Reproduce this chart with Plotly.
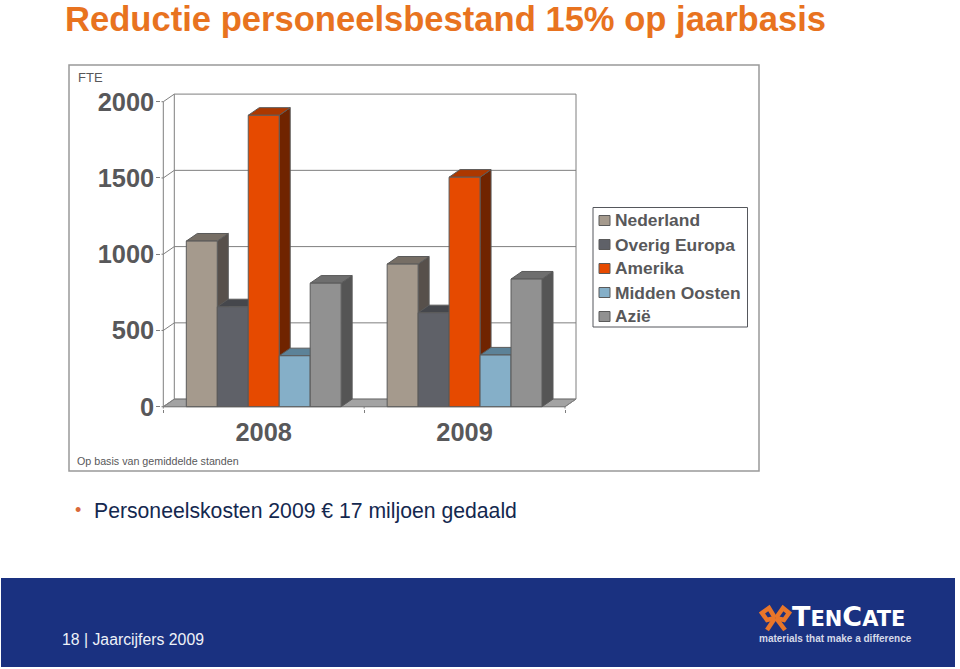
"""TenCate slide: FTE per region, pseudo-3D grouped bars plus slide furniture."""
import plotly.graph_objects as go

W, H = 960, 669

YEARS = ["2008", "2009"]
REGIONS = ["Nederland", "Overig Europa", "Amerika", "Midden Oosten", "Azië"]
NEDERLAND = [1086, 935]
OVERIG_EUROPA = [655, 616]
AMERIKA = [1911, 1505]
MIDDEN_OOSTEN = [334, 339]
AZIE = [810, 837]
Y_TICKS = [0, 500, 1000, 1500, 2000]

SERIES = [NEDERLAND, OVERIG_EUROPA, AMERIKA, MIDDEN_OOSTEN, AZIE]
FRONT = ["#a59a8d", "#5f6168", "#e64a00", "#85afc8", "#919191"]
SIDE = ["#57504b", "#45474c", "#702400", "#5c8298", "#555555"]
TOP = ["#766e65", "#45474c", "#ac3800", "#5c8298", "#6e6e6e"]
EDGE = "#5a5a5a"
GRID = "#7f7f7f"
TEXT = "#58585a"
ORANGE = "#e8731f"
NAVY = "#1a3180"

# front plane of the 3D box in pixels, then the box depth and a small pad so
# nothing gets clipped at the subplot edge
X0, X1, Y0, Y1 = 163.3, 565.0, 406.7, 101.7
DEPTH_X, DEPTH_Y, PAD = 11, 7.6, 2
X_UNIT = (X1 - X0) / 2          # pixels per category
Y_UNIT = (Y0 - Y1) / 2000       # pixels per FTE
BARGAP = 0.229
BAR_W = (1 - BARGAP) / len(SERIES)
DX = DEPTH_X / X_UNIT
DY = DEPTH_Y / Y_UNIT
PAD_X = PAD / X_UNIT
PAD_Y = PAD / Y_UNIT
X_RANGE = [-0.5 - PAD_X, 1.5 + DX + PAD_X]
Y_RANGE = [-PAD_Y, 2000 + DY + PAD_Y]


def px(x):
    return x / W


def py(y):
    return 1 - y / H


def face(xs, ys, fill, line=EDGE):
    return go.Scatter(x=xs + xs[:1], y=ys + ys[:1], mode="lines", fill="toself",
                      fillcolor=fill, line=dict(color=line, width=1),
                      hoverinfo="skip", showlegend=False, xaxis="x", yaxis="y")


def label(x, y, text, size, color=TEXT, bold=False, family="Liberation Sans"):
    font = dict(family=family, size=size, color=color, weight="bold" if bold else "normal")
    fig.add_annotation(xref="paper", yref="paper", x=px(x), y=py(y), text=text,
                       showarrow=False, font=font, xanchor="left", yanchor="middle",
                       borderpad=0, borderwidth=0)


def pixel_path(points):
    return "M" + " L".join(f"{px(x):.5f},{py(y):.5f}" for x, y in points)


fig = go.Figure()

# floor, back wall and the front axis lines, the stubs join the axis ticks
left, right = -0.5, 1.5
fig.add_trace(face([left, left + DX, right + DX, right], [0, DY, DY, 0], "#a3a3a3", GRID))
wall_x, wall_y = [], []
for t in Y_TICKS:
    wall_x += [left - PAD_X, left, left + DX, right + DX, None]
    wall_y += [t, t, t + DY, t + DY, None]
for b in [left, 0.5, right]:
    wall_x += [b, b, None]
    wall_y += [0, -PAD_Y, None]
wall_x += [left + DX, left + DX, None, right + DX, right + DX, None, right, right + DX, None]
wall_y += [DY, 2000 + DY, None, DY, 2000 + DY, None, 0, DY, None]
wall_x += [left, left, None, left, right]
wall_y += [0, 2000, None, 0, 0]
fig.add_trace(go.Scatter(x=wall_x, y=wall_y, mode="lines", line=dict(color=GRID, width=1),
                         hoverinfo="skip", showlegend=False))

# side and top faces sit on the lower subplot, so the front bars cover them
for j, vals in enumerate(SERIES):
    for i, v in enumerate(vals):
        x_l = i + (j - len(SERIES) / 2) * BAR_W
        x_r = x_l + BAR_W
        fig.add_trace(face([x_r, x_r + DX, x_r + DX, x_r], [0, DY, v + DY, v], SIDE[j]))
        fig.add_trace(face([x_l, x_l + DX, x_r + DX, x_r], [v, v + DY, v + DY, v], TOP[j]))

for name, vals, color in zip(REGIONS, SERIES, FRONT):
    fig.add_trace(go.Bar(x=YEARS, y=vals, name=name, marker_color=color,
                         marker_line=dict(color=EDGE, width=1), xaxis="x2", yaxis="y2"))

# legend box, swatches and labels
LEG_X, LEG_Y, LEG_STEP = 599, 220.5, 24
for k, (name, color) in enumerate(zip(REGIONS, FRONT)):
    yc = LEG_Y + k * LEG_STEP
    fig.add_shape(type="rect", xref="paper", yref="paper", x0=px(LEG_X), x1=px(LEG_X + 11),
                  y0=py(yc - 5), y1=py(yc + 5), fillcolor=color, line=dict(color=EDGE, width=1))
    label(615.3, yc, name, 17.4, bold=True)
fig.add_shape(type="rect", xref="paper", yref="paper", x0=px(593), x1=px(747.5), y0=py(207.5), y1=py(327),
              line=dict(color="#55575c", width=1))

# chart frame
fig.add_shape(type="rect", xref="paper", yref="paper", x0=px(69), x1=px(759), y0=py(65), y1=py(471),
              line=dict(color="#999999", width=1.5), layer="below")

# footer band
fig.add_shape(type="rect", xref="paper", yref="paper", x0=px(1), x1=px(955), y0=py(578), y1=py(667),
              fillcolor=NAVY, line_width=0, layer="below")

label(78, 77, "FTE", 13)
label(77, 460.5, "Op basis van gemiddelde standen", 10.7)
label(74.5, 510, "•", 18, color="#d9693a")
label(94, 510.5, "Personeelskosten 2009 € 17 miljoen gedaald", 21.2, color="#14284f")
label(62, 639, "18 | Jaarcijfers 2009", 15.8, color="#eef1f8")

# logo: ribbon and wordmark
label(792, 616.5, "T<span style='font-size:21px'>EN</span>C<span style='font-size:21px'>ATE</span>",
      27, color="white", bold=True, family="DejaVu Sans")
label(759, 638, "materials that make a difference", 10, color="#d5d9e8", bold=True)
RIBBON = [
    [(775, 618), (769, 608), (762, 613), (767, 620), (775, 618)],
    [(776, 618), (783, 608), (789, 613), (784, 620), (776, 618)],
    [(775, 618), (767, 630)],
    [(776, 618), (785, 630)],
]
for stroke in RIBBON:
    fig.add_shape(type="path", xref="paper", yref="paper", path=pixel_path(stroke),
                  line=dict(color="#e8762a", width=4.5))

tick_font = dict(family="Liberation Sans", size=25.4, color=TEXT, weight="bold")
fig.update_layout(
    width=W, height=H, autosize=False,
    margin=dict(l=0, r=0, t=0, b=0, pad=0, autoexpand=False),
    paper_bgcolor="white", plot_bgcolor="rgba(0,0,0,0)",
    barmode="group", bargap=BARGAP, bargroupgap=0, showlegend=False,
    title=dict(text="Reductie personeelsbestand 15% op jaarbasis", x=px(65), xanchor="left",
               y=py(18.5), yanchor="middle", automargin=False,
               font=dict(family="Liberation Sans", size=34.6, color=ORANGE, weight="bold")),
    # numeric axis for the box geometry, its ticks mark the category boundaries
    xaxis=dict(range=X_RANGE, domain=[px(X0 - PAD), px(X1 + DEPTH_X + PAD)], anchor="y",
               tickvals=[left, 0.5, right], showticklabels=False, ticks="outside",
               ticklen=3, tickcolor=GRID, showline=False, showgrid=False, zeroline=False),
    yaxis=dict(range=Y_RANGE, domain=[py(Y0 + PAD), py(Y1 - DEPTH_Y - PAD)], anchor="x",
               tickvals=Y_TICKS, ticks="outside", ticklen=4, tickcolor=GRID,
               ticklabelstandoff=-3, showline=False, tickfont=tick_font,
               showgrid=False, zeroline=False),
    xaxis2=dict(type="category", categoryorder="array", categoryarray=YEARS,
                range=X_RANGE, overlaying="x", anchor="y2", side="bottom",
                ticks="", showline=False, tickfont=tick_font, ticklabelstandoff=6,
                showgrid=False, zeroline=False),
    yaxis2=dict(range=Y_RANGE, overlaying="y", anchor="x2", visible=False,
                showgrid=False, zeroline=False),
)

fig.write_html("out.html", config={"displayModeBar": False},
               post_script="document.body.style.margin = '0';")
